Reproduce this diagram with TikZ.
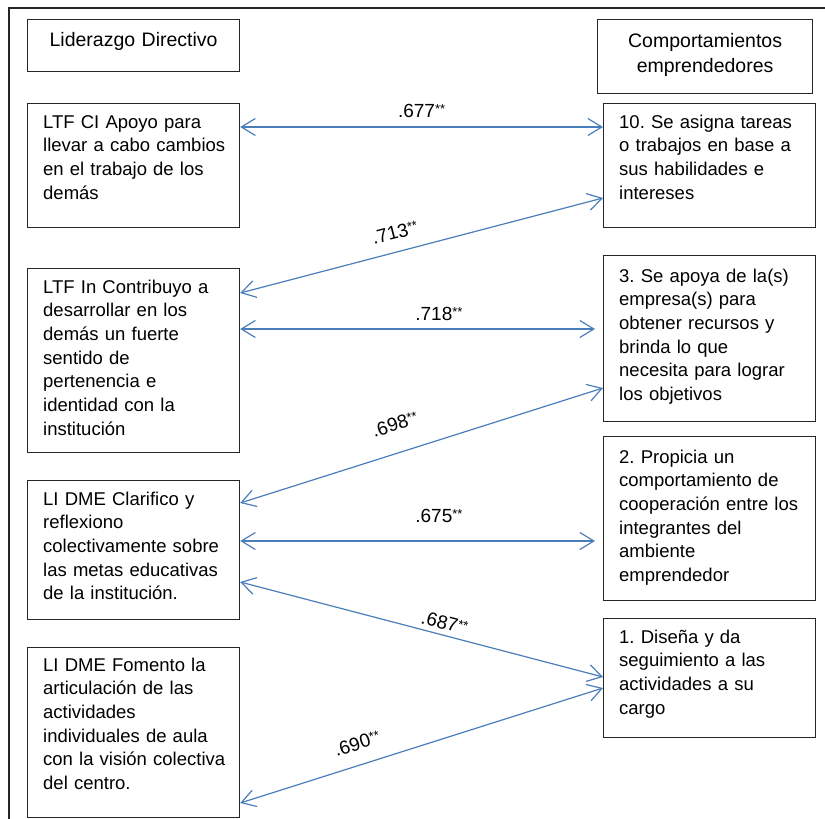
\documentclass[tikz,border=0pt]{standalone}
\usepackage{fontspec}
\setmainfont{Liberation Sans}
\usetikzlibrary{arrows.meta,calc}

\definecolor{linea}{HTML}{4A7EBB}

% coeficiente con asteriscos pequenos
\newcommand{\sig}[1]{#1\raisebox{4pt}{\fontsize{13}{13}\selectfont **}}

\tikzset{
  caja/.style={draw=black!85, line width=1.2pt, inner sep=0pt, anchor=north west},
  texto/.style={anchor=base west, align=left, text width=190pt, inner sep=0pt,
    font=\fontsize{18.5}{23.7}\selectfont},
  titulo/.style={anchor=base, align=center, text width=200pt, inner sep=0pt,
    font=\fontsize{19.5}{25}\selectfont},
  flecha/.style={draw=linea, line width=1.2pt,
    {Straight Barb[length=14pt,width=17pt]}-{Straight Barb[length=14pt,width=17pt]}},
  coef/.style={font=\fontsize{19}{19}\selectfont, inner sep=1pt},
}

\begin{document}
\frenchspacing
\begin{tikzpicture}[x=1pt,y=-1pt]
\useasboundingbox (0,0) rectangle (825,819);

% marco
\draw[line width=2pt, black!85] (9,830) -- (9,8) -- (830,8);

% encabezados
\node[caja, minimum width=212pt, minimum height=52pt] (lid) at (27,19) {};
\node[titulo] (lid-t) at ($(lid.north)+(0,27)$) {Liderazgo Directivo};
\node[caja, minimum width=215pt, minimum height=74pt] (comp) at (597,19) {};
\node[titulo] (comp-t) at ($(comp.north)+(0,28)$) {Comportamientos\\emprendedores};

% liderazgo directivo
\node[caja, minimum width=212pt, minimum height=124pt] (ci) at (27,103) {};
\node[texto] (ci-t) at ($(ci.north west)+(16,25)$)
  {LTF CI Apoyo para\\llevar a cabo cambios\\en el trabajo de los\\demás};
\node[caja, minimum width=212pt, minimum height=184pt] (in) at (27,268) {};
\node[texto] (in-t) at ($(in.north west)+(16,25)$)
  {LTF In Contribuyo a\\desarrollar en los\\demás un fuerte\\sentido de\\pertenencia e\\identidad con la\\institución};
\node[caja, minimum width=212pt, minimum height=139pt] (cl) at (27,480) {};
\node[texto] (cl-t) at ($(cl.north west)+(16,25)$)
  {LI DME Clarifico y\\reflexiono\\colectivamente sobre\\las metas educativas\\de la institución.};
\node[caja, minimum width=212pt, minimum height=170pt] (fo) at (27,647) {};
\node[texto] (fo-t) at ($(fo.north west)+(16,24)$)
  {LI DME Fomento la\\articulación de las\\actividades\\individuales de aula\\con la visión colectiva\\del centro.};

% comportamientos emprendedores
\node[caja, minimum width=212pt, minimum height=124pt] (c10) at (603,103) {};
\node[texto] (c10-t) at ($(c10.north west)+(16,25)$)
  {10. Se asigna tareas\\o trabajos en base a\\sus habilidades e\\intereses};
\node[caja, minimum width=212pt, minimum height=166pt] (c3) at (603,255) {};
\node[texto] (c3-t) at ($(c3.north west)+(16,27)$)
  {3. Se apoya de la(s)\\empresa(s) para\\obtener recursos y\\brinda lo que\\necesita para lograr\\los objetivos};
\node[caja, minimum width=212pt, minimum height=164pt] (c2) at (603,436) {};
\node[texto] (c2-t) at ($(c2.north west)+(16,27)$)
  {2. Propicia un\\comportamiento de\\cooperación entre los\\integrantes del\\ambiente\\emprendedor};
\node[caja, minimum width=212pt, minimum height=119pt] (c1) at (603,618) {};
\node[texto] (c1-t) at ($(c1.north west)+(16,25)$)
  {1. Diseña y da\\seguimiento a las\\actividades a su\\cargo};

% correlaciones
\draw[flecha] ([yshift=-24pt]ci.north east) --
  node[coef, pos=.5, above=8pt] {\sig{.677}} ([yshift=-24pt]c10.north west);
\draw[flecha] ([yshift=-25pt]in.north east) --
  node[coef, sloped, pos=.44, above=11pt] {\sig{.713}} ([yshift=-95pt]c10.north west);
\draw[flecha] ([yshift=-61pt]in.north east) --
  node[coef, pos=.56, above=7pt] {\sig{.718}} ([xshift=-8pt,yshift=-74pt]c3.north west);
\draw[flecha] ([yshift=-23pt]cl.north east) --
  node[coef, sloped, pos=.45, above=20pt] {\sig{.698}} ([yshift=-133pt]c3.north west);
\draw[flecha] ([yshift=-61pt]cl.north east) --
  node[coef, pos=.56, above=17pt] {\sig{.675}} ([xshift=-8pt,yshift=-105pt]c2.north west);
\draw[flecha] ([yshift=-102pt]cl.north east) --
  node[coef, sloped, pos=.555, above=4pt] {\sig{.687}} ([yshift=-59pt]c1.north west);
\draw[flecha] ([yshift=-156pt]fo.north east) --
  node[coef, sloped, pos=.34, above=13pt] {\sig{.690}} ([yshift=-70pt]c1.north west);
\end{tikzpicture}
\end{document}
